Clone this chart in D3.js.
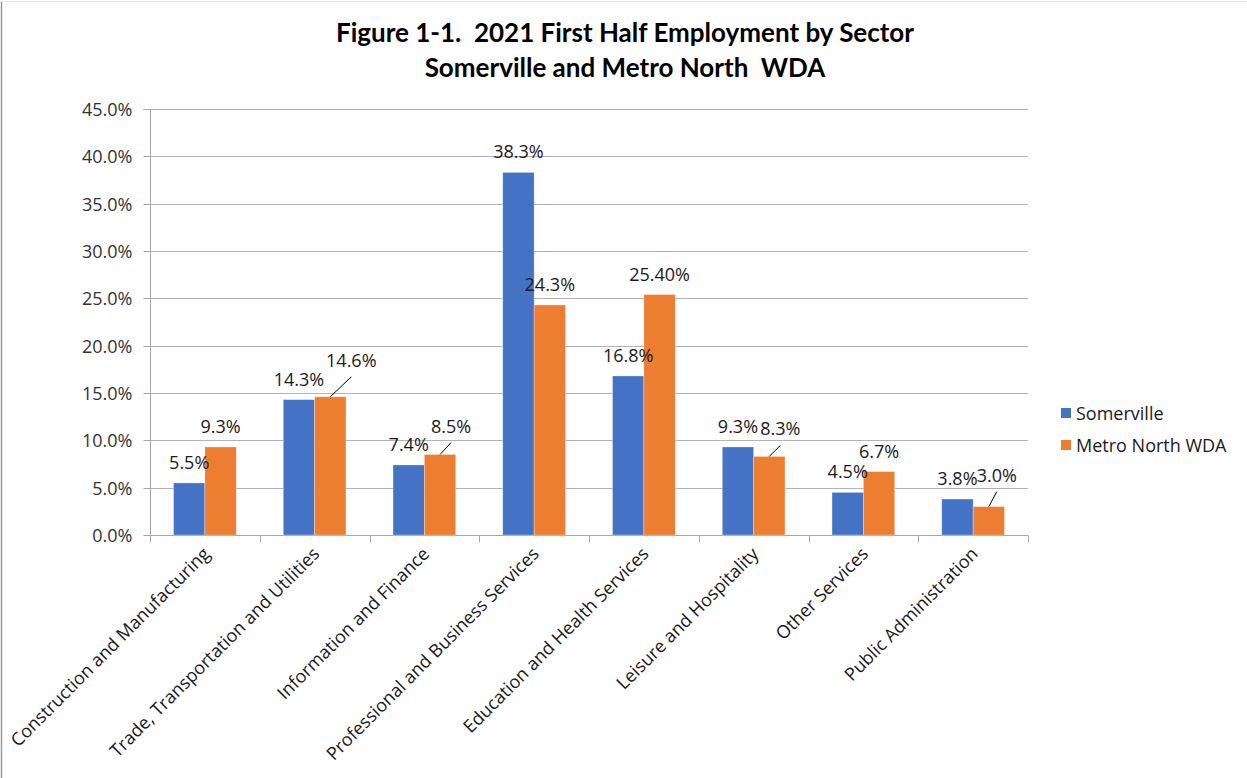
<!DOCTYPE html>
<html><head><meta charset="utf-8">
<script src="https://cdn.jsdelivr.net/npm/d3@7"></script>
<style>body{margin:0;background:#fff}svg{display:block}</style>
</head><body><svg id="c" width="1247" height="778"></svg>
<script>
const categories = ["Construction and Manufacturing","Trade, Transportation and Utilities","Information and Finance","Professional and Business Services","Education and Health Services","Leisure and Hospitality","Other Services","Public Administration"];
const seriesNames = ["Somerville","Metro North WDA"];
const somerville = [5.5,14.3,7.4,38.3,16.8,9.3,4.5,3.8];
const metroNorth = [9.3,14.6,8.5,24.3,25.4,8.3,6.7,3.0];
const metroDecimals = [1,1,1,1,2,1,1,1];
const yTicks = [0,5,10,15,20,25,30,35,40,45];
const titleLines = ["Figure 1-1.  2021 First Half Employment by Sector","Somerville and Metro North  WDA"];
const colors = ["#4472C4","#ED7D31"];
// manually nudged labels (series index, category index) -> offset
const nudges = {"1-1":[21,-16],"1-2":[11,-8],"1-5":[11,-7],"1-7":[8,-11]};

(function(){
const svg = d3.select("#c");
const font = "'Open Sans', sans-serif";
const fs = 18;
const pl = 150, pr = 1028, pt = 109, pb = 535;
const x0 = d3.scaleBand().domain(categories).range([pl,pr]).paddingInner(0).paddingOuter(0);
const bandW = x0.bandwidth();
const barW = bandW/3.5;
const x1 = d3.scaleBand().domain([0,1]).range([ (bandW-2*barW)/2, (bandW+2*barW)/2 ]);
const y = d3.scaleLinear().domain([0,45]).range([pb,pt]);

// chart border
svg.append("line").attr("x1",1.5).attr("x2",1.5).attr("y1",1).attr("y2",778).attr("stroke","#9a9a9a").attr("stroke-width",1.5);
svg.append("line").attr("x1",1).attr("x2",1247).attr("y1",1.5).attr("y2",1.5).attr("stroke","#e6e6e6");

// title
svg.append("g").selectAll("text").data(titleLines).join("text")
  .attr("x",625).attr("y",(d,i)=>42+i*34.5).attr("text-anchor","middle")
  .attr("font-family","Lato, sans-serif").attr("font-weight","bold").attr("font-size",26)
  .style("white-space","pre").attr("fill","#000").text(d=>d);

// gridlines
svg.append("g").selectAll("line").data(yTicks.filter(d=>d>0)).join("line")
  .attr("x1",pl).attr("x2",pr).attr("y1",d=>Math.round(y(d))+0.5).attr("y2",d=>Math.round(y(d))+0.5)
  .attr("stroke","#b3b3b3").attr("stroke-width",1);

// y axis
const yAxis = d3.axisLeft(y).tickValues(yTicks).tickSize(7).tickPadding(11).tickFormat(d=>d3.format(".1f")(d)+"%");
const gy = svg.append("g").attr("transform",`translate(${pl+0.5},0.5)`).call(yAxis);
gy.select(".domain").attr("stroke","#a6a6a6").attr("d",`M-7,${pt}H0V${pb}`);
gy.selectAll(".tick line").attr("stroke","#a6a6a6");
gy.selectAll(".tick").attr("transform",d=>`translate(0,${Math.round(y(d))})`);
gy.selectAll(".tick text").attr("font-family",font).attr("font-size",fs).attr("fill","#333").attr("dy","0.35em");

// x axis
const xAxisScale = d3.scaleLinear().domain([0,categories.length]).range([pl,pr]);
const gx = svg.append("g").attr("transform",`translate(0.5,${Math.round(y(0))+0.5})`);
gx.append("line").attr("x1",pl).attr("x2",pr).attr("stroke","#a6a6a6");
gx.selectAll("line.t").data(d3.range(categories.length+1)).join("line").attr("class","t")
  .attr("x1",d=>Math.round(xAxisScale(d))).attr("x2",d=>Math.round(xAxisScale(d))).attr("y1",0).attr("y2",7).attr("stroke","#a6a6a6");

// category labels
svg.append("g").selectAll("text").data(categories).join("text")
  .attr("transform",d=>`translate(${x0(d)+bandW/2+6},${555}) rotate(-45)`)
  .attr("text-anchor","end").attr("font-family",font).attr("font-size",fs).attr("fill","#1a1a1a").text(d=>d);

// bars
const rows = categories.map((c,i)=>({cat:c,i,vals:[somerville[i],metroNorth[i]]}));
const groups = svg.append("g").selectAll("g").data(rows).join("g").attr("transform",d=>`translate(${x0(d.cat)},0)`);
groups.selectAll("rect").data(d=>d.vals.map((v,s)=>({v,s,i:d.i}))).join("rect")
  .attr("x",d=>x1(d.s)).attr("width",barW).attr("y",d=>y(d.v)).attr("height",d=>y(0)-y(d.v))
  .attr("fill",d=>colors[d.s]).attr("stroke","#fff").attr("stroke-opacity",0.5).attr("stroke-width",0.6);

// data labels
const labelData = [];
rows.forEach(r=>r.vals.forEach((v,s)=>{
  const cx = x0(r.cat)+x1(s)+barW/2, ty = y(v);
  const nd = nudges[s+"-"+r.i];
  const dec = s===1 ? metroDecimals[r.i] : 1;
  const lx = cx + (nd?nd[0]:0), ly = ty-14 + (nd?nd[1]:0);
  labelData.push({cx,ty,lx,ly,nd,text:v.toFixed(dec)+"%"});
}));
svg.append("g").selectAll("line").data(labelData.filter(d=>d.nd)).join("line")
  .attr("x1",d=>d.cx).attr("y1",d=>d.ty).attr("x2",d=>d.lx).attr("y2",d=>d.ly+10)
  .attr("stroke","#000").attr("stroke-width",1);
svg.append("g").selectAll("text").data(labelData).join("text")
  .attr("x",d=>d.lx).attr("y",d=>d.ly).attr("text-anchor","middle")
  .attr("font-family",font).attr("font-size",fs).attr("fill","#1a1a1a").text(d=>d.text);

// legend
const lg = svg.append("g").selectAll("g").data(seriesNames).join("g")
  .attr("transform",(d,i)=>`translate(1061,${408+i*32})`);
lg.append("rect").attr("width",10).attr("height",10).attr("fill",(d,i)=>colors[i]);
lg.append("text").attr("x",15).attr("y",12).attr("font-family",font).attr("font-size",fs).attr("fill","#1a1a1a").text(d=>d);
})();
</script></body></html>
